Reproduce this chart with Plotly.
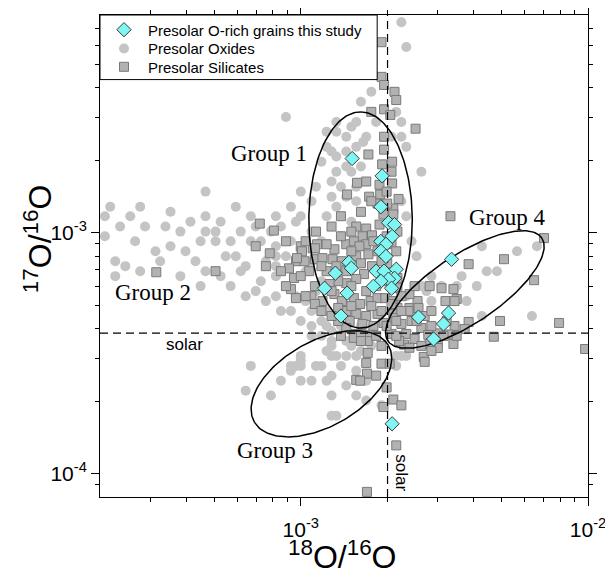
import math
import numpy as np
import plotly.graph_objects as go

# ---------------- data (isotope ratios) ----------------
oxide_x = [2.24e-3, 2.33e-3, 1.76e-3, 8.88e-4, 2.15e-3, 2.24e-3, 1.56e-3, 1.50e-3, 1.33e-3, 1.23e-3,
           1.33e-3, 1.69e-3, 1.65e-3, 2.07e-3, 2.24e-3, 2.33e-3, 1.23e-3, 1.18e-3, 1.33e-3, 1.44e-3,
           2.63e-3, 1.33e-3, 1.50e-3, 1.28e-3, 1.38e-3, 4.66e-4, 1.28e-3, 1.56e-3, 1.44e-3, 2.08e-4,
           2.17e-4, 2.76e-4, 3.52e-4, 4.66e-4, 5.94e-4, 5.26e-4, 6.70e-4, 8.19e-4, 8.53e-4, 9.62e-4,
           1.00e-3, 2.87e-4, 3.38e-4, 3.81e-4, 4.13e-4, 4.66e-4, 5.05e-4, 4.48e-4, 5.05e-4, 3.12e-4,
           5.94e-4, 6.70e-4, 7.26e-4, 8.19e-4, 2.26e-4, 2.45e-4, 2.76e-4, 3.24e-4, 3.81e-4, 2.26e-4,
           4.66e-4, 5.26e-4, 6.18e-4, 6.43e-4, 7.56e-4, 8.19e-4, 8.19e-4, 7.26e-4, 8.19e-4, 6.97e-4,
           6.43e-4, 8.19e-4, 1.04e-3, 1.18e-3, 1.18e-3, 1.23e-3, 1.33e-3, 1.50e-3, 1.38e-3, 9.62e-4,
           1.09e-3, 1.23e-3, 1.09e-3, 1.18e-3, 1.28e-3, 1.38e-3, 1.50e-3, 1.62e-3, 1.76e-3, 1.44e-3,
           1.28e-3, 1.38e-3, 1.56e-3, 1.28e-3, 1.00e-3, 9.24e-4, 1.13e-3, 1.00e-3, 1.09e-3, 6.70e-4,
           1.44e-3, 1.69e-3, 1.56e-3, 1.28e-3, 1.69e-3, 2.15e-3, 2.33e-3, 2.15e-3, 2.53e-3, 2.85e-3,
           7.87e-4, 6.43e-4, 9.24e-4, 9.62e-4, 1.00e-3, 1.18e-3, 1.23e-3, 1.00e-3, 1.09e-3, 1.23e-3,
           1.28e-3, 1.33e-3, 1.44e-3, 1.53e-3, 1.56e-3, 1.28e-3, 1.91e-3, 2.24e-3, 1.23e-3, 1.28e-3,
           1.62e-3, 1.18e-3, 1.33e-3, 4.27e-3, 5.66e-3, 6.64e-3, 4.44e-3, 4.82e-3, 4.10e-3, 3.63e-3,
           3.09e-3, 3.49e-3, 3.78e-3, 2.85e-3, 2.74e-3, 2.63e-3, 2.33e-3, 4.27e-3, 6.38e-3, 2.43e-3,
           2.24e-3, 2.33e-3, 2.43e-3, 1.00e-3, 1.09e-3, 1.13e-3, 1.04e-3, 9.24e-4, 8.88e-4, 9.24e-4,
           1.09e-3, 2.08e-4, 2.55e-4, 3.97e-4, 1.62e-3, 1.56e-3,
           1.09e-3, 1.13e-3, 1.00e-3, 9.24e-4, 7.87e-4, 6.97e-4, 6.18e-4, 5.70e-4, 5.48e-4, 4.30e-4,
           3.52e-4, 2.65e-4, 2.35e-4, 4.48e-4, 5.70e-4, 7.56e-4, 8.53e-4, 1.00e-3, 1.44e-3, 1.28e-3,
           1.56e-3, 1.62e-3, 1.44e-3, 1.83e-3, 8.53e-4]
oxide_y = [7.46e-3, 5.89e-3, 3.84e-3, 3.02e-3, 3.17e-3, 2.88e-3, 2.88e-3, 2.75e-3, 2.88e-3, 2.62e-3,
           2.62e-3, 2.50e-3, 2.38e-3, 2.50e-3, 2.50e-3, 2.27e-3, 2.27e-3, 1.97e-3, 2.07e-3, 2.17e-3,
           1.79e-3, 1.79e-3, 1.79e-3, 1.63e-3, 1.55e-3, 1.48e-3, 1.41e-3, 1.35e-3, 1.41e-3, 1.17e-3,
           1.28e-3, 1.28e-3, 1.22e-3, 1.17e-3, 1.28e-3, 1.11e-3, 1.17e-3, 1.17e-3, 1.06e-3, 1.11e-3,
           1.17e-3, 1.06e-3, 1.06e-3, 1.01e-3, 1.11e-3, 1.01e-3, 1.01e-3, 9.21e-4, 9.21e-4, 8.37e-4,
           7.98e-4, 9.21e-4, 9.21e-4, 8.78e-4, 7.61e-4, 7.26e-4, 6.92e-4, 7.61e-4, 6.60e-4, 6.60e-4,
           6.92e-4, 6.60e-4, 6.92e-4, 7.26e-4, 7.61e-4, 7.26e-4, 7.98e-4, 6.29e-4, 6.60e-4, 5.72e-4,
           5.45e-4, 5.45e-4, 6.92e-4, 6.29e-4, 9.21e-4, 1.17e-3, 1.28e-3, 1.11e-3, 9.66e-4, 5.45e-4,
           4.73e-4, 4.73e-4, 4.10e-4, 3.73e-4, 3.55e-4, 4.10e-4, 3.39e-4, 3.23e-4, 3.39e-4, 3.08e-4,
           3.08e-4, 2.80e-4, 2.67e-4, 2.55e-4, 2.80e-4, 2.67e-4, 2.80e-4, 2.43e-4, 2.43e-4, 2.80e-4,
           2.32e-4, 2.43e-4, 2.11e-4, 2.11e-4, 2.01e-4, 3.08e-4, 3.08e-4, 2.80e-4, 7.98e-4, 6.60e-4,
           2.11e-4, 2.21e-4, 2.80e-4, 2.80e-4, 2.94e-4, 2.80e-4, 2.43e-4, 3.08e-4, 3.73e-4, 3.23e-4,
           3.39e-4, 3.08e-4, 3.55e-4, 3.55e-4, 3.08e-4, 1.74e-4, 1.92e-4, 3.08e-4, 4.10e-4, 3.91e-4,
           4.10e-4, 4.30e-4, 1.74e-4, 8.78e-4, 8.37e-4, 8.78e-4, 6.92e-4, 6.92e-4, 6.00e-4, 6.60e-4,
           6.00e-4, 6.00e-4, 5.20e-4, 5.20e-4, 5.72e-4, 6.00e-4, 5.45e-4, 4.51e-4, 4.51e-4, 4.73e-4,
           1.35e-3, 1.17e-3, 9.21e-4, 8.37e-4, 7.61e-4, 5.72e-4, 5.20e-4, 4.73e-4, 7.98e-4, 9.21e-4,
           1.01e-3, 9.66e-4, 1.17e-3, 8.37e-4, 1.88e-3, 1.55e-3,
           1.35e-3, 1.55e-3, 1.48e-3, 1.28e-3, 1.01e-3, 1.06e-3, 1.01e-3, 9.21e-4, 7.98e-4, 7.61e-4,
           8.78e-4, 9.21e-4, 1.06e-3, 6.00e-4, 6.00e-4, 5.20e-4, 4.73e-4, 4.30e-4, 1.88e-3, 2.17e-3,
           2.27e-3, 3.49e-3, 2.50e-3, 2.88e-3, 2.43e-4]

silicate_x = [1.91e-3, 1.91e-3, 1.95e-3, 2.12e-3, 2.15e-3, 1.76e-3, 1.95e-3, 2.05e-3, 2.51e-3, 1.95e-3,
              1.95e-3, 1.72e-3, 1.92e-3, 2.08e-3, 1.57e-3, 1.88e-3, 2.08e-3, 1.45e-3, 1.73e-3, 1.89e-3,
              2.19e-3, 7.20e-4, 8.06e-4, 8.88e-4, 7.80e-4, 9.62e-4, 1.03e-3, 1.00e-3, 1.10e-3, 1.14e-3,
              9.62e-4, 1.09e-3, 5.05e-4, 3.14e-4, 3.32e-3, 1.56e-3, 1.69e-3, 1.88e-3, 1.94e-3, 2.10e-3,
              2.00e-3, 1.85e-3, 2.17e-3, 1.77e-3, 1.64e-3, 1.44e-3, 1.31e-3, 1.23e-3, 1.12e-3, 1.01e-3,
              9.70e-4, 1.12e-3, 1.29e-3, 1.39e-3, 1.56e-3, 1.72e-3, 1.77e-3, 1.66e-3, 1.56e-3, 1.44e-3,
              1.35e-3, 1.26e-3, 1.12e-3, 1.04e-3, 9.24e-4, 1.31e-3, 1.39e-3, 1.53e-3, 1.61e-3, 1.75e-3,
              1.85e-3, 1.97e-3, 2.10e-3, 2.17e-3, 2.10e-3, 1.85e-3, 1.69e-3, 1.56e-3, 1.44e-3, 1.35e-3,
              2.39e-3, 2.55e-3, 2.39e-3, 2.81e-3, 3.09e-3, 3.40e-3, 3.49e-3, 3.19e-3, 1.48e-3, 1.64e-3,
              1.79e-3, 1.94e-3, 1.53e-3, 1.74e-3, 1.44e-3, 1.35e-3, 1.19e-3, 1.12e-3, 2.17e-3, 2.17e-3,
              2.00e-3, 1.85e-3, 2.07e-3, 2.10e-3, 1.53e-3, 1.69e-3, 1.44e-3, 1.23e-3, 1.07e-3, 9.47e-4,
              9.10e-4, 1.19e-3, 1.04e-3, 1.56e-3, 1.70e-3, 1.83e-3, 1.71e-3, 1.69e-3, 1.91e-3, 2.04e-3,
              1.99e-3, 2.10e-3, 2.24e-3, 1.94e-3, 2.15e-3, 1.53e-3, 1.71e-3, 1.62e-3, 1.61e-3, 1.70e-3,
              3.84e-3, 5.10e-3, 6.49e-3, 7.03e-3, 3.43e-3, 2.49e-3, 3.84e-3, 4.94e-3, 4.70e-3, 7.93e-3,
              3.40e-3, 2.68e-3, 2.70e-3, 3.72e-3, 3.43e-3, 3.27e-3, 3.00e-3, 2.37e-3, 2.57e-3, 2.70e-3,
              2.85e-3, 2.43e-3, 2.63e-3, 2.78e-3, 3.00e-3, 2.33e-3, 2.49e-3, 2.29e-3, 3.00e-3, 2.24e-3,
              2.07e-3, 2.12e-3, 2.07e-3, 2.20e-3, 2.39e-3, 2.81e-3, 3.14e-3, 9.77e-3,
              1.38e-3, 1.50e-3, 1.60e-3, 1.79e-3, 1.99e-3, 2.15e-3, 1.91e-3, 1.62e-3, 1.50e-3, 1.33e-3,
              1.18e-3, 1.28e-3, 1.50e-3, 1.69e-3, 1.83e-3, 1.99e-3, 2.24e-3, 1.91e-3, 1.76e-3, 1.50e-3,
              1.28e-3, 1.18e-3, 1.38e-3, 1.62e-3, 1.83e-3, 1.99e-3, 2.15e-3, 2.15e-3, 1.91e-3, 1.00e-3,
              8.88e-4, 8.53e-4, 7.56e-4, 6.97e-4, 1.28e-3, 1.13e-3, 1.38e-3, 1.62e-3, 1.76e-3, 1.69e-3,
              1.99e-3, 2.07e-3, 2.24e-3, 2.53e-3, 2.85e-3, 3.22e-3, 3.49e-3, 2.63e-3, 2.85e-3]
silicate_y = [6.17e-3, 4.43e-3, 4.10e-3, 3.84e-3, 3.55e-3, 3.17e-3, 3.25e-3, 3.08e-3, 2.70e-3, 2.50e-3,
              2.21e-3, 2.11e-3, 1.92e-3, 1.97e-3, 1.61e-3, 1.58e-3, 1.60e-3, 1.44e-3, 1.41e-3, 1.44e-3,
              1.38e-3, 1.09e-3, 1.02e-3, 9.21e-4, 8.21e-4, 7.61e-4, 7.61e-4, 8.78e-4, 8.61e-4, 8.95e-4,
              5.35e-4, 5.45e-4, 6.92e-4, 6.85e-4, 1.17e-3, 1.06e-3, 1.04e-3, 1.08e-3, 1.19e-3, 1.26e-3,
              1.32e-3, 1.32e-3, 1.01e-3, 9.75e-4, 9.66e-4, 8.95e-4, 8.53e-4, 8.95e-4, 8.61e-4, 8.37e-4,
              7.84e-4, 7.76e-4, 7.76e-4, 7.61e-4, 7.98e-4, 8.13e-4, 7.26e-4, 6.73e-4, 6.42e-4, 6.17e-4,
              6.29e-4, 6.12e-4, 6.00e-4, 5.45e-4, 5.83e-4, 5.56e-4, 5.20e-4, 5.35e-4, 5.06e-4, 5.20e-4,
              5.35e-4, 5.35e-4, 5.20e-4, 4.87e-4, 4.60e-4, 4.60e-4, 4.51e-4, 4.60e-4, 4.73e-4, 4.87e-4,
              4.87e-4, 5.20e-4, 5.56e-4, 6.00e-4, 5.88e-4, 5.83e-4, 5.30e-4, 5.20e-4, 4.30e-4, 4.18e-4,
              4.10e-4, 4.22e-4, 3.80e-4, 3.77e-4, 4.02e-4, 4.30e-4, 5.20e-4, 5.06e-4, 5.88e-4, 6.48e-4,
              7.46e-4, 8.37e-4, 8.95e-4, 1.19e-3, 9.21e-4, 8.95e-4, 6.92e-4, 6.92e-4, 6.92e-4, 6.48e-4,
              7.11e-4, 7.84e-4, 9.21e-4, 2.45e-4, 2.60e-4, 2.55e-4, 3.17e-4, 2.88e-4, 2.86e-4, 2.86e-4,
              2.28e-4, 2.03e-4, 1.92e-4, 1.89e-4, 1.31e-4, 3.66e-4, 3.55e-4, 3.80e-4, 2.43e-4, 8.40e-5,
              7.40e-4, 7.76e-4, 6.35e-4, 9.49e-4, 5.20e-4, 6.00e-4, 4.26e-4, 4.30e-4, 3.70e-4, 4.22e-4,
              3.45e-4, 3.05e-4, 2.91e-4, 3.98e-4, 4.10e-4, 3.78e-4, 3.82e-4, 4.73e-4, 4.87e-4, 4.51e-4,
              4.73e-4, 4.30e-4, 4.02e-4, 3.77e-4, 3.55e-4, 3.80e-4, 3.62e-4, 3.43e-4, 3.32e-4, 4.18e-4,
              5.06e-4, 4.43e-4, 3.80e-4, 3.55e-4, 3.33e-4, 3.45e-4, 3.73e-4, 3.29e-4,
              9.66e-4, 1.01e-3, 8.78e-4, 9.21e-4, 9.66e-4, 8.37e-4, 7.61e-4, 7.46e-4, 8.37e-4, 7.26e-4,
              7.26e-4, 5.72e-4, 6.00e-4, 5.72e-4, 6.00e-4, 6.29e-4, 5.45e-4, 4.73e-4, 4.96e-4, 4.96e-4,
              4.51e-4, 4.73e-4, 3.73e-4, 3.55e-4, 3.73e-4, 4.10e-4, 4.30e-4, 3.73e-4, 3.39e-4, 6.60e-4,
              6.00e-4, 6.92e-4, 7.26e-4, 8.78e-4, 1.06e-3, 1.01e-3, 1.17e-3, 1.22e-3, 1.35e-3, 1.63e-3,
              1.48e-3, 1.79e-3, 4.73e-4, 4.30e-4, 4.10e-4, 4.30e-4, 3.73e-4, 3.39e-4, 3.23e-4]

study_x = [1.51e-3, 1.92e-3, 1.90e-3, 2.02e-3, 2.12e-3, 2.08e-3, 1.90e-3, 1.98e-3, 1.90e-3, 1.98e-3,
           1.47e-3, 1.50e-3, 1.32e-3, 1.83e-3, 1.95e-3, 2.15e-3, 2.12e-3, 2.02e-3, 1.90e-3, 2.07e-3,
           1.79e-3, 1.21e-3, 1.45e-3, 1.38e-3, 2.57e-3, 3.27e-3, 3.14e-3, 2.90e-3, 3.35e-3, 2.08e-3]
study_y = [2.03e-3, 1.72e-3, 1.28e-3, 1.10e-3, 1.08e-3, 9.65e-4, 9.20e-4, 8.94e-4, 8.37e-4, 7.97e-4,
           7.53e-4, 7.12e-4, 6.79e-4, 6.92e-4, 6.92e-4, 7.05e-4, 6.47e-4, 6.41e-4, 6.29e-4, 5.88e-4,
           5.99e-4, 5.88e-4, 5.61e-4, 4.51e-4, 4.46e-4, 4.64e-4, 4.18e-4, 3.62e-4, 7.75e-4, 1.61e-4]

# solar reference ratios
solar_18_16 = 2.005e-3
solar_17_16 = 3.83e-4

# group ellipses: centre (ratio) and two conjugate semi-axes in decades (dlogx, dlogy)
ell_center = [(1.615e-3, 1.129e-3), (1.180e-3, 2.36e-4), (3.726e-3, 5.81e-4)]
ell_u = [(0.0, 0.4484), (0.2332, 0.1591), (0.2678, 0.2136)]
ell_v = [(0.180, 0.0), (0.0745, -0.1525), (0.0672, -0.1178)]

# label positions (ratio space)
label_text = ["Group 1", "Group 2", "Group 3", "Group 4"]
label_x = [7.73e-4, 3.06e-4, 8.12e-4, 5.26e-3]
label_y = [2.13e-3, 5.66e-4, 1.25e-4, 1.156e-3]
solar_h_label = (3.93e-4, 3.45e-4)
solar_v_label = (2.24e-3, 1.01e-4)

x_range = (2e-4, 1e-2)
y_range = (8e-5, 8e-3)
x_major = [1e-3, 1e-2]
x_major_text = ["10<sup>-3</sup>", "10<sup>-2</sup>"]
y_major = [1e-4, 1e-3]
y_major_text = ["10<sup>-4</sup>", "10<sup>-3</sup>"]
x_minor = [k * 1e-4 for k in range(3, 10)] + [k * 1e-3 for k in range(2, 10)]
y_minor = [9e-5] + [k * 1e-4 for k in range(2, 10)] + [k * 1e-3 for k in range(2, 8)]

FONT = "Liberation Sans, Arial, sans-serif"
SERIF = "Liberation Serif, Times New Roman, serif"

fig = go.Figure()

fig.add_trace(go.Scatter(x=oxide_x, y=oxide_y, mode="markers", name="Presolar Oxides",
                         legend="legend2",
                         marker=dict(symbol="circle", size=10, color="#c4c4c4", line=dict(width=0))))
fig.add_trace(go.Scatter(x=silicate_x, y=silicate_y, mode="markers", name="Presolar Silicates",
                         legend="legend3",
                         marker=dict(symbol="square", size=9, color="#b2b2b2",
                                     line=dict(width=1, color="#7a7a7a"))))

# dashed solar lines
fig.add_trace(go.Scatter(x=[solar_18_16, solar_18_16], y=list(y_range), mode="lines",
                         line=dict(color="black", width=1.2, dash="8px,5px"),
                         showlegend=False, hoverinfo="skip"))
fig.add_trace(go.Scatter(x=list(x_range), y=[solar_17_16, solar_17_16], mode="lines",
                         line=dict(color="black", width=1.2, dash="8px,5px"),
                         showlegend=False, hoverinfo="skip"))

# ellipses
t = np.linspace(0, 2 * np.pi, 200)
for (cx, cy), (ux, uy), (vx, vy) in zip(ell_center, ell_u, ell_v):
    lx = math.log10(cx) + ux * np.cos(t) + vx * np.sin(t)
    ly = math.log10(cy) + uy * np.cos(t) + vy * np.sin(t)
    fig.add_trace(go.Scatter(x=10 ** lx, y=10 ** ly, mode="lines",
                             line=dict(color="black", width=1.5),
                             showlegend=False, hoverinfo="skip"))

fig.add_trace(go.Scatter(x=study_x, y=study_y, mode="markers",
                         name="Presolar O-rich grains this study", legend="legend",
                         marker=dict(symbol="diamond", size=11, color="#7ef6f4",
                                     line=dict(width=1, color="#3a3a3a"))))

annotations = []
for txt, lx_, ly_ in zip(label_text, label_x, label_y):
    annotations.append(dict(x=math.log10(lx_), y=math.log10(ly_), xref="x", yref="y",
                            text=txt, showarrow=False,
                            font=dict(family=SERIF, size=23, color="black")))
annotations.append(dict(x=math.log10(solar_h_label[0]), y=math.log10(solar_h_label[1]),
                        xref="x", yref="y", text="solar", showarrow=False,
                        font=dict(family=FONT, size=17, color="black")))
annotations.append(dict(x=math.log10(solar_v_label[0]), y=math.log10(solar_v_label[1]),
                        xref="x", yref="y", text="solar", showarrow=False, textangle=90,
                        font=dict(family=FONT, size=17, color="black")))
# axis titles
annotations.append(dict(x=0.496, y=-0.121, xref="paper", yref="paper", yanchor="middle",
                        text="<sup>18</sup>O/<sup>16</sup>O", showarrow=False,
                        font=dict(family=FONT, size=32, color="black")))
annotations.append(dict(x=-0.127, y=0.535, xref="paper", yref="paper", xanchor="center",
                        yanchor="middle",
                        text="<sup>17</sup>O/<sup>16</sup>O", showarrow=False, textangle=-90,
                        font=dict(family=FONT, size=32, color="black")))

axis_common = dict(type="log", showgrid=False, zeroline=False, showline=True,
                   linecolor="black", linewidth=1, mirror="allticks", automargin=False,
                   ticks="outside", ticklen=8, tickwidth=1, tickcolor="black",
                   tickfont=dict(family=FONT, size=21, color="black"))

leg_common = dict(x=0, xanchor="left", yanchor="middle", bgcolor="rgba(0,0,0,0)",
                  borderwidth=0, itemwidth=38,
                  font=dict(family=FONT, size=15, color="black"))

fig.update_layout(
    width=613, height=568,
    margin=dict(l=92, r=33, t=5, b=79),
    paper_bgcolor="white", plot_bgcolor="white",
    showlegend=True,
    legend=dict(y=0.969, **leg_common),
    legend2=dict(y=0.930, **leg_common),
    legend3=dict(y=0.892, **leg_common),
    shapes=[dict(type="rect", xref="paper", yref="paper", x0=0, x1=0.568, y0=0.866, y1=1,
                 line=dict(color="black", width=1), fillcolor="white", layer="above")],
    annotations=annotations,
    xaxis=dict(range=[math.log10(x_range[0]), math.log10(x_range[1])],
               tickmode="array", tickvals=x_major, ticktext=x_major_text,
               ticklabelstandoff=6,
               minor=dict(tickmode="array", tickvals=x_minor, ticks="outside", ticklen=4,
                          tickwidth=1, tickcolor="black"),
               **axis_common),
    yaxis=dict(range=[math.log10(y_range[0]), math.log10(y_range[1])],
               tickmode="array", tickvals=y_major, ticktext=y_major_text,
               minor=dict(tickmode="array", tickvals=y_minor, ticks="outside", ticklen=4,
                          tickwidth=1, tickcolor="black"),
               **axis_common),
)

fig.write_html("out.html")
